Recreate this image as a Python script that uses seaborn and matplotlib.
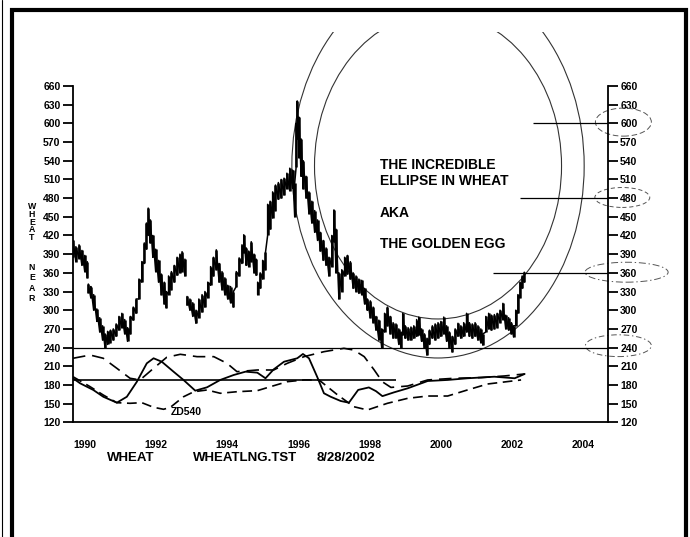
import numpy as np
import pandas as pd
import matplotlib
matplotlib.use("Agg")
import matplotlib.pyplot as plt
from matplotlib.patches import Ellipse, Rectangle
from matplotlib.lines import Line2D
import seaborn as sns

# nearest wheat futures: decimal year, low, high, contract piece
price_year = [
    1990.00, 1990.08, 1990.17, 1990.25, 1990.33, 1990.40,
    1990.43, 1990.50, 1990.58, 1990.67, 1990.75, 1990.83, 1990.90, 1990.97,
    1991.05, 1991.13, 1991.21, 1991.29, 1991.37, 1991.45, 1991.53, 1991.61,
    1991.69, 1991.77, 1991.85, 1991.93, 1992.00, 1992.06, 1992.11, 1992.17,
    1992.24, 1992.32, 1992.40, 1992.48, 1992.56, 1992.62, 1992.68, 1992.76,
    1992.84, 1992.92, 1993.00, 1993.06, 1993.14,
    1993.20, 1993.28, 1993.36, 1993.45, 1993.53, 1993.62, 1993.70, 1993.78,
    1993.86, 1993.94, 1994.02, 1994.10, 1994.18, 1994.26, 1994.34, 1994.42,
    1994.50, 1994.58, 1994.66, 1994.74, 1994.79, 1994.86, 1994.93, 1995.00,
    1995.08, 1995.14,
    1995.18, 1995.25, 1995.32, 1995.40, 1995.46, 1995.53, 1995.60, 1995.68,
    1995.76, 1995.84, 1995.92, 1996.00, 1996.08, 1996.16, 1996.22, 1996.26,
    1996.29, 1996.34, 1996.40, 1996.46, 1996.54, 1996.62, 1996.70, 1996.78,
    1996.86, 1996.94, 1997.02, 1997.10, 1997.18, 1997.26, 1997.32, 1997.38,
    1997.46, 1997.54, 1997.62, 1997.70, 1997.78, 1997.86, 1997.94, 1998.02,
    1998.10, 1998.18, 1998.26, 1998.34, 1998.42, 1998.50, 1998.58, 1998.66,
    1998.74, 1998.82, 1998.90, 1998.98, 1999.06, 1999.14, 1999.20, 1999.25,
    1999.32, 1999.40, 1999.48, 1999.56, 1999.64, 1999.70, 1999.78, 1999.86,
    1999.93, 2000.00, 2000.08, 2000.16, 2000.24, 2000.32, 2000.40, 2000.48,
    2000.56, 2000.64, 2000.72, 2000.80, 2000.88, 2000.96, 2001.04, 2001.12,
    2001.20, 2001.28, 2001.36, 2001.44, 2001.50, 2001.58, 2001.66, 2001.74,
    2001.82, 2001.90, 2001.98, 2002.06, 2002.14, 2002.22, 2002.30, 2002.36,
    2002.42, 2002.48, 2002.54, 2002.60, 2002.66,
]
price_low = [
    385, 378, 383, 372, 362, 352,
    328, 320, 300, 282, 265, 252, 239, 245,
    248, 252, 258, 268, 272, 262, 250, 262,
    284, 295, 318, 345, 375, 398, 420, 408,
    385, 362, 345, 325, 310, 304, 325, 333,
    345, 356, 360, 362, 355,
    308, 300, 290, 279, 288, 297, 305, 320,
    340, 355, 365, 345, 333, 325, 318, 312,
    305, 338, 355, 375, 392, 372, 370, 378,
    360, 356,
    325, 335, 350, 365, 420, 430, 448, 460,
    478, 480, 485, 495, 492, 496, 450, 530,
    575, 545, 515, 495, 480, 455, 440, 425,
    412, 395, 380, 372, 355, 370, 410, 360,
    318, 330, 355, 358, 350, 335, 330, 327,
    325, 310, 300, 288, 280, 268, 252, 240,
    265, 275, 262, 255, 255, 245, 240, 260,
    255, 252, 252, 255, 258, 260, 250, 240,
    228, 245, 255, 252, 255, 258, 262, 250,
    240, 233, 245, 258, 255, 258, 265, 258,
    255, 258, 252, 248, 244, 265, 270, 268,
    270, 272, 280, 285, 270, 268, 262, 257,
    275, 295, 320, 335, 345,
]
price_high = [
    412, 402, 405, 396, 388, 378,
    342, 338, 325, 302, 288, 275, 262, 266,
    268, 270, 278, 290, 295, 285, 272, 290,
    305, 318, 350, 378, 408, 440, 464, 445,
    420, 398, 380, 358, 345, 330, 355, 362,
    372, 385, 390, 394, 382,
    322, 318, 312, 300, 318, 325, 330, 345,
    370, 385, 397, 375, 362, 352, 340, 338,
    330, 362, 384, 405, 421, 400, 395, 410,
    390, 382,
    345, 360, 380, 393, 470, 475, 490, 501,
    505, 510, 512, 520, 528, 525, 505, 600,
    636, 610, 575, 540, 515, 490, 475, 460,
    445, 425, 412, 400, 385, 420, 461, 430,
    360, 365, 385, 388, 378, 360, 355, 350,
    348, 335, 318, 315, 305, 290, 284, 270,
    295, 305, 290, 280, 278, 270, 265, 295,
    275, 272, 273, 275, 285, 289, 270, 262,
    255, 268, 275, 278, 280, 282, 289, 275,
    265, 258, 270, 279, 275, 280, 295, 280,
    278, 280, 275, 270, 262, 290, 295, 292,
    293, 295, 300, 311, 292, 288, 280, 275,
    300, 325, 345, 355, 361,
]
price_seg = [0] * 6 + [1] * 37 + [2] * 26 + [3] * 101

# cycle lines in the lower panel
fast_year = [1990.0, 1990.2, 1990.57, 1990.85, 1991.23, 1991.51, 1991.79, 1992.07,
             1992.26, 1992.49, 1992.82, 1993.1, 1993.43, 1993.76, 1994.13, 1994.51,
             1994.84, 1995.17, 1995.4, 1995.63, 1995.92, 1996.29, 1996.45, 1996.62,
             1996.85, 1997.04, 1997.23, 1997.51, 1997.74, 1998.0, 1998.3, 1998.5,
             1998.68, 1999.0, 1999.39, 1999.95, 2000.51, 2001.07, 2001.82, 2002.39,
             2002.67]
fast_val = [190.7, 182.6, 171.9, 161, 151.5, 161, 185, 214.7,
            222.8, 217.3, 201.3, 188, 170.8, 176.2, 188, 196,
            201.3, 199.7, 190.7, 205, 217.3, 222.8, 229.7, 222.8,
            193, 166.6, 161, 154.2, 151.5, 172, 176, 170,
            162, 168, 174.6, 186.3, 188, 190.7, 193.2, 190.7,
            197.6]
long_year = [1990.0, 1990.48, 1990.85, 1991.23, 1991.6, 1991.88, 1992.26, 1992.63,
             1993.01, 1993.48, 1993.95, 1994.32, 1994.6, 1995.17, 1995.63, 1996.01,
             1996.48, 1997.04, 1997.6, 1997.88, 1998.17, 1998.45, 1998.68, 1998.92,
             1999.39, 1999.95, 2000.7, 2001.45, 2002.1, 2002.67]
long_val = [222.8, 228, 222.8, 206.7, 190.7, 188, 206.7, 224.4,
            229.2, 225.4, 225.4, 214.7, 201.3, 204, 204, 214.7,
            225.4, 233.4, 238.8, 236, 225.4, 204, 185, 176,
            178.3, 188, 190.7, 191.8, 194.4, 197.6]
mid_year = [1990.0, 1990.48, 1990.85, 1991.23, 1991.6, 1991.93, 1992.26, 1992.54,
            1992.73, 1993.1, 1993.39, 1993.76, 1994.13, 1994.6, 1995.17, 1995.54,
            1996.01, 1996.48, 1996.9, 1997.4, 1997.88, 1998.26, 1998.82, 1999.39,
            1999.95, 2000.51, 2001.07, 2001.63, 2002.57]
mid_val = [193.2, 177.2, 163.8, 151.5, 150.5, 151.5, 144.1, 140.9,
           144, 161, 169.1, 171.9, 166.6, 169.1, 170.8, 177.2,
           185.2, 188, 188, 165, 145, 139.8, 150.5, 158.5,
           162.2, 162.2, 172, 181.5, 188]

# horizontal levels and the year each one starts
level_val = [240, 360, 480, 600]
level_start = [1990.0, 2001.79, 2002.55, 2002.91]
cycle_level = 188
cycle_level_end = 1999.06

# the two big ellipses: centre year, centre price, width in years, height in price
egg_center = (2000.24, 531.6)
egg_inner = (6.93, 491.4)
egg_outer = (8.2, 616.7)

# small marks round the right-hand labels: centre year, price, width, height, style
ring_x = [2005.44, 2005.41, 2005.53, 2005.30]
ring_y = [602, 481, 361, 243]
ring_w = [1.57, 1.54, 2.33, 1.85]
ring_h = [45, 32, 32, 35]
ring_ls = [(0, (4, 2)), (0, (3, 2)), (0, (5, 2, 1, 2)), (0, (4, 2, 1, 2))]

major_years = list(range(1990, 2005, 2))
minor_years = list(range(1991, 2006, 2))
price_ticks = list(range(120, 661, 30))

sns.set_style("white", {"axes.edgecolor": "black", "text.color": "black",
                        "xtick.color": "black", "ytick.color": "black"})
plt.rcParams["font.family"] = ["Liberation Sans", "DejaVu Sans"]
plt.rcParams["font.weight"] = "bold"
plt.rcParams["lines.scale_dashes"] = False

W, H = 690, 537
fig = plt.figure(figsize=(W / 100, H / 100), dpi=100)


def fx(px):
    return px / W


def fy(py):
    return 1 - py / H


ax = fig.add_axes([fx(73), fy(422.3), fx(607.7) - fx(73), fy(86) - fy(422.3)])

# price bars: a range bar at each reading, joined high-to-low like a bar chart
price = pd.DataFrame({"year": price_year, "low": price_low,
                      "high": price_high, "seg": price_seg})
for seg, d in price.groupby("seg"):
    xs = np.repeat(d["year"].to_numpy(), 2)
    ys = np.column_stack([d["low"], d["high"]]).ravel()
    ax.plot(xs, ys, color="black", lw=1.1)
    ax.vlines(d["year"], d["low"], d["high"], color="black", lw=1.8)

# cycle lines
sns.lineplot(x=fast_year, y=fast_val, ax=ax, color="black", lw=1.3, sort=False)
sns.lineplot(x=long_year, y=long_val, ax=ax, color="black", lw=1.2, sort=False,
             linestyle=(0, (9, 5)))
sns.lineplot(x=mid_year, y=mid_val, ax=ax, color="black", lw=1.2, sort=False,
             linestyle=(0, (7, 4)))
ax.text(1992.73, 137, "ZD540", fontsize=7.5, ha="left", va="center")

# levels
for lv, start in zip(level_val, level_start):
    ax.hlines(lv, start, 2005, color="black", lw=0.9)
ax.hlines(cycle_level, 1990, cycle_level_end, color="black", lw=1.2)

# the egg
clip = Rectangle((1985, 0), 30, 746.8, transform=ax.transData)
for w, h in [egg_inner, egg_outer]:
    e = Ellipse(egg_center, w, h, fill=False, edgecolor="#333333", lw=0.8)
    ax.add_patch(e)
    e.set_clip_path(clip)

for x, y, w, h, ls in zip(ring_x, ring_y, ring_w, ring_h, ring_ls):
    ax.add_patch(Ellipse((x, y), w, h, fill=False, edgecolor="#555555",
                         lw=0.7, linestyle=ls, clip_on=False))

# axes
ax.set_xlim(1990, 2005)
ax.set_ylim(120, 660)
ax.set_xticks(major_years)
ax.set_xticklabels([str(y) for y in major_years], ha="left")
ax.set_xticks(minor_years, minor=True)
ax.set_yticks(price_ticks)
ax.set_yticklabels([str(v) for v in price_ticks])
ax.tick_params(axis="x", which="major", length=11.5, width=1.3, pad=1, labelsize=7.5)
ax.tick_params(axis="x", which="minor", length=9.5, width=1.3)
ax.tick_params(axis="y", length=7, width=1.3, pad=2, labelsize=7.5,
               left=True, right=True, labelleft=True, labelright=True)
ax.spines["top"].set_visible(False)
for s in ["left", "right", "bottom"]:
    ax.spines[s].set_linewidth(1.3)
ax.set_xlabel("")
ax.set_ylabel("")

# stacked axis title
fig.text(fx(32), fy(202), "W\nH\nE\nA\nT", ha="center", va="top",
         fontsize=6.3, linespacing=0.83)
fig.text(fx(32), fy(263), "N\nE\nA\nR", ha="center", va="top",
         fontsize=6.3, linespacing=1.2)

for line, py in zip(["THE INCREDIBLE", "ELLIPSE IN WHEAT", "AKA", "THE GOLDEN EGG"],
                    [165, 181, 213, 244]):
    fig.text(fx(380), fy(py), line, ha="left", va="center", fontsize=10)

for label, px in zip(["WHEAT", "WHEATLNG.TST", "8/28/2002"], [107, 193, 317]):
    fig.text(fx(px), fy(458), label, ha="left", va="center", fontsize=9.5)

# page frame
fig.add_artist(Line2D([fx(2), fx(2)], [0, 1], color="black", lw=0.8))
fig.add_artist(Line2D([fx(11.5), fx(11.5), fx(685.5), fx(685.5)],
                      [0, fy(10), fy(10), 0], color="black", lw=3,
                      solid_joinstyle="miter"))

fig.savefig("out.png", dpi=100)
